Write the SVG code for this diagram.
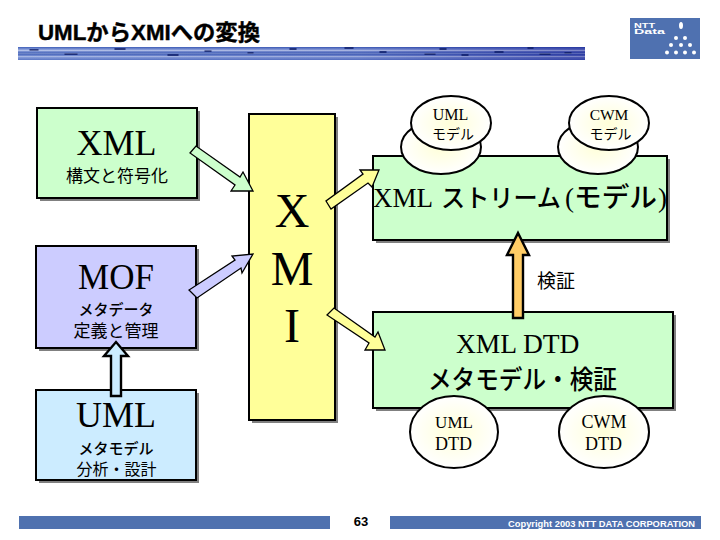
<svg xmlns="http://www.w3.org/2000/svg" width="720" height="540" viewBox="0 0 720 540">
<defs>
<style>
.box{stroke:#000;stroke-width:2}
.shadow{fill:#808080}
.arr{stroke:#000;stroke-width:1.3;stroke-linejoin:miter}
.arrb{stroke:#000;stroke-width:2.4;stroke-linejoin:miter}
.s{font-family:"Liberation Serif","Noto Sans CJK JP",serif;fill:#000}
.j{font-family:"Noto Sans CJK JP","Liberation Sans",sans-serif;fill:#000}
.m{text-anchor:middle}
.b{font-family:"Liberation Sans","Noto Sans CJK JP",sans-serif;font-weight:700}
.ell{fill:url(#eg);stroke:#000;stroke-width:2}
.dot{fill:#fff}
</style>
<radialGradient id="eg"><stop offset="0" stop-color="#ffffd8"/><stop offset="1" stop-color="#ffffff"/></radialGradient>
<linearGradient id="band" x1="0" y1="0" x2="0" y2="1">
<stop offset="0" stop-color="#3f5fb8"/><stop offset="0.25" stop-color="#a0b2e4"/><stop offset="0.5" stop-color="#3a5ab4"/><stop offset="0.75" stop-color="#8ea3dd"/><stop offset="1" stop-color="#5a76c4"/>
</linearGradient>
<linearGradient id="bandx" x1="0" y1="0" x2="1" y2="0">
<stop offset="0" stop-color="#000080" stop-opacity="0"/><stop offset="0.6" stop-color="#000080" stop-opacity="0.1"/><stop offset="1" stop-color="#000080" stop-opacity="0.45"/>
</linearGradient>
</defs>

<g id="header">
<text class="b" x="38" y="40" font-size="22" fill="#000" stroke="#000" stroke-width="0.4" textLength="222" lengthAdjust="spacingAndGlyphs">UMLからXMIへの変換</text>
<rect x="18" y="47" width="567" height="13" fill="url(#band)"/>
<rect x="18" y="47" width="567" height="13" fill="url(#bandx)"/>
<g stroke="#0a1a66" stroke-width="1.5" stroke-linecap="round">
<path d="M30 50h8M65 54h12M115 49h10M168 55h10M205 51h6M248 53h5M290 49h6M345 48h8M380 52h6M425 54h10M440 49h6M462 55h6M495 52h8M528 48h5M540 54h10M565 53h6"/>
</g>
<g stroke="#fff" stroke-width="0.5" opacity="0.5"><path d="M18 50.500h567M18 53.500h567M18 56.500h567"/></g>
</g>

<g id="logo">
<rect x="630" y="18" width="70" height="41" fill="#4f71b0"/>
<text x="634" y="28" font-family="'Liberation Sans',sans-serif" font-size="8" font-weight="700" fill="#fff" textLength="21" lengthAdjust="spacingAndGlyphs">NTT</text>
<text x="634" y="34" font-family="'Liberation Sans',sans-serif" font-size="7" font-weight="700" fill="#fff" textLength="31" lengthAdjust="spacingAndGlyphs">Data</text>
<g class="dot">
<ellipse cx="681" cy="25.500" rx="2" ry="3.500"/>
<circle cx="676" cy="38" r="2"/><circle cx="685" cy="38" r="2"/>
<circle cx="671" cy="45" r="2"/><circle cx="681" cy="45" r="2"/><circle cx="690" cy="45" r="2"/>
<circle cx="667" cy="52.500" r="2"/><circle cx="676" cy="52.500" r="2"/><circle cx="685" cy="52.500" r="2"/><circle cx="694" cy="52.500" r="2"/>
</g>
</g>

<g id="node-xml">
<rect class="shadow" x="40" y="111" width="160" height="90"/>
<rect class="box" x="37" y="108" width="160" height="90" fill="#ccffcc"/>
<text class="s m" x="116.500" y="155" font-size="36">XML</text>
<text class="j m" x="117" y="182" font-size="17">構文と符号化</text>
</g>

<g id="node-mof">
<rect class="shadow" x="39" y="249" width="160" height="102"/>
<rect class="box" x="36" y="246" width="160" height="102" fill="#ccccff"/>
<text class="s m" x="116" y="289" font-size="35">MOF</text>
<text class="j m" x="116" y="315" font-size="15" font-weight="500">メタデータ</text>
<text class="j m" x="116" y="337" font-size="17">定義と管理</text>
</g>

<g id="node-uml">
<rect class="shadow" x="39" y="393" width="160" height="90"/>
<rect class="box" x="36" y="390" width="160" height="90" fill="#ccecff"/>
<text class="s m" x="116" y="427" font-size="36">UML</text>
<text class="j m" x="116" y="454" font-size="15" font-weight="500">メタモデル</text>
<text class="j m" x="116.500" y="475" font-size="16">分析・設計</text>
</g>

<g id="node-xmi">
<rect class="shadow" x="252" y="117" width="86" height="306"/>
<rect class="box" x="249" y="114" width="86" height="306" fill="#ffff99"/>
<text class="s m" x="292" y="227" font-size="48">X</text>
<text class="s m" x="292" y="285" font-size="48">M</text>
<text class="s m" x="292" y="342" font-size="48">I</text>
</g>

<g id="node-stream">
<rect class="shadow" x="376" y="159" width="294" height="84"/>
<rect class="box" x="373" y="156" width="294" height="84" fill="#ccffcc"/>
<text class="s" x="373" y="207" font-size="27">XML</text>
<text class="j" x="441" y="207" font-size="25" font-weight="500" textLength="120" lengthAdjust="spacingAndGlyphs">ストリーム</text>
<text class="s" x="565" y="207" font-size="27">(</text>
<text class="j" x="574" y="207" font-size="27" font-weight="500" textLength="83" lengthAdjust="spacingAndGlyphs">モデル</text>
<text class="s" x="658" y="207" font-size="27">)</text>
</g>

<g id="node-dtd">
<rect class="shadow" x="376" y="315" width="300" height="96"/>
<rect class="box" x="373" y="312" width="300" height="96" fill="#ccffcc"/>
<text class="s" x="456" y="353" font-size="27.500">XML DTD</text>
<text class="j" x="428" y="389" font-size="26" font-weight="500" textLength="189" lengthAdjust="spacingAndGlyphs">メタモデル・検証</text>
</g>

<g id="node-uml-model">
<ellipse class="ell" cx="441" cy="147" rx="40" ry="27"/>
<ellipse class="ell" cx="451" cy="123" rx="40" ry="27"/>
<text class="s m" x="450.500" y="120" font-size="16">UML</text>
<text class="j m" x="453" y="139" font-size="14">モデル</text>
</g>

<g id="node-cwm-model">
<ellipse class="ell" cx="598" cy="147" rx="40" ry="27"/>
<ellipse class="ell" cx="609" cy="123" rx="40" ry="27"/>
<text class="s m" x="609" y="120" font-size="15.500">CWM</text>
<text class="j m" x="610.500" y="139" font-size="14">モデル</text>
</g>

<g id="node-uml-dtd">
<ellipse class="ell" cx="454" cy="432" rx="44" ry="36"/>
<text class="s m" x="454" y="428" font-size="17">UML</text>
<text class="s m" x="453.500" y="450" font-size="18">DTD</text>
</g>

<g id="node-cwm-dtd">
<ellipse class="ell" cx="604" cy="432" rx="45" ry="36"/>
<text class="s m" x="604" y="428" font-size="18">CWM</text>
<text class="s m" x="603.500" y="450" font-size="18">DTD</text>
</g>

<g id="connectors">
<polygon class="arr" fill="#ccffcc" points="190,153 196,146 240,177 243,172 253,191 231,191 235,185"/>
<polygon class="arr" fill="#ccccff" points="189,290 197,298 241,268 242,273 253,254 232,256 235,260"/>
<polygon class="arr" fill="#ffff99" points="326,201 331,209 368,183 372,187 379,170 360,170 363,174"/>
<polygon class="arr" fill="#ffff99" points="327,315 334,308 375,337 378,332 385,350 365,350 369,343"/>
<polygon class="arrb" fill="#ccecff" points="111,396 121,396 121,356 128,356 116,342 104,356 111,356"/>
<polygon class="arrb" fill="#ffcc66" points="513,318 523,318 523,255 529,255 518,233 507,255 513,255"/>
</g>

<g id="label-verify">
<text class="j" x="537" y="288" font-size="19">検証</text>
</g>

<g id="footer">
<rect x="19" y="516" width="311" height="13" fill="#4f71af"/>
<rect x="390" y="516" width="311" height="13" fill="#4f71af"/>
<text class="b" x="361" y="526" font-size="13" fill="#000" text-anchor="middle">63</text>
<text class="b" x="508" y="527" font-size="9" fill="#fff" textLength="187" lengthAdjust="spacingAndGlyphs">Copyright 2003 NTT DATA CORPORATION</text>
</g>
</svg>
